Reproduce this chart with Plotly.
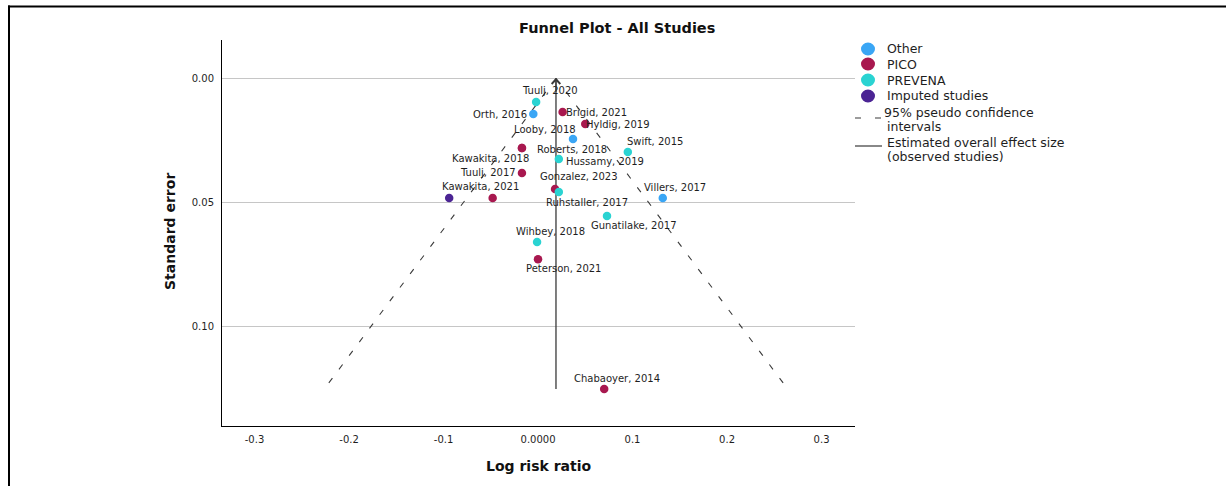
import numpy as np
import plotly.graph_objects as go

# ---- study data -------------------------------------------------------------
studies = ["Tuulj, 2020", "Orth, 2016", "Brigid, 2021", "Hyldig, 2019", "Looby, 2018",
           "Roberts, 2018", "Kawakita, 2018", "Swift, 2015", "Hussamy, 2019", "Tuulj, 2017",
           "Gonzalez, 2023", "Ruhstaller, 2017", "Kawakita, 2021", "Villers, 2017",
           "Gunatilake, 2017", "Wihbey, 2018", "Peterson, 2021", "Chabaoyer, 2014"]
log_rr = [-0.002, -0.005, 0.026, 0.050, 0.037,
          -0.017, -0.017, 0.095, 0.022, -0.017,
          0.018, 0.022, -0.048, 0.132,
          0.073, -0.001, 0.000, 0.070]
std_err = [0.0095, 0.0144, 0.0136, 0.0184, 0.0244,
           0.0281, 0.0281, 0.0297, 0.0325, 0.0381,
           0.0446, 0.0458, 0.0482, 0.0482,
           0.0554, 0.0659, 0.0728, 0.1251]
device = ["PREVENA", "Other", "PICO", "PICO", "Other",
          "PICO", "PICO", "PREVENA", "PREVENA", "PICO",
          "PICO", "PREVENA", "PICO", "Other",
          "PREVENA", "PREVENA", "PICO", "PICO"]

imputed_log_rr = [-0.094]
imputed_se = [0.0482]

pooled_log_rr = 0.019          # estimated overall effect (observed studies)
z_95 = 1.96

groups = ["Other", "PICO", "PREVENA"]
x_tick_vals = [-0.3, -0.2, -0.1, 0.0, 0.1, 0.2, 0.3]
x_tick_text = ["-0.3", "-0.2", "-0.1", "0.0000", "0.1", "0.2", "0.3"]
y_tick_vals = [0.0, 0.05, 0.10]
y_tick_text = ["0.00", "0.05", "0.10"]

# ---- styling ------------------------------------------------------------------
colors = {"Other": "#3AA6F5", "PICO": "#A8184F", "PREVENA": "#2AD3D2",
          "Imputed": "#4B2494"}
FONT = "DejaVu Sans"
TXT = "#1e1e1e"

W, H = 1226, 486
ML, MR, MT, MB = 222, 371, 40, 60
PW, PH = W - ML - MR, H - MT - MB


def px_x(px):
    return (px - ML) / PW


def px_y(py):
    return (H - MB - py) / PH


# label placement around each point (pixels: right, down)
label_offsets = {
    "Tuulj, 2020": (13.5, -11), "Orth, 2016": (-33, 0), "Brigid, 2021": (34, 0),
    "Hyldig, 2019": (33, 0), "Looby, 2018": (-27.5, -9), "Roberts, 2018": (50.5, 1),
    "Kawakita, 2018": (-31, 10), "Swift, 2015": (26.7, -11), "Hussamy, 2019": (45.7, 2),
    "Tuulj, 2017": (-34, 0), "Gonzalez, 2023": (23.5, -12.3), "Ruhstaller, 2017": (28, 10),
    "Kawakita, 2021": (-12.5, -11.3), "Villers, 2017": (12.7, -10.7),
    "Gunatilake, 2017": (27.3, 9.7), "Wihbey, 2018": (13, -11),
    "Peterson, 2021": (25.3, 9.7), "Chabaoyer, 2014": (12.7, -10.7),
}

fig = go.Figure()

# ---- pseudo 95% confidence funnel and pooled effect line -----------------------
se_max = max(std_err)
se_line = np.array([0.0, se_max])
for sign in (-1, 1):
    fig.add_trace(go.Scatter(
        x=pooled_log_rr + sign * z_95 * se_line, y=se_line, mode="lines",
        line=dict(color="#3a3a3a", width=1.1, dash="6px,11px"),
        hoverinfo="skip", showlegend=False))

fig.add_trace(go.Scatter(
    x=[pooled_log_rr, pooled_log_rr], y=[0.0, se_max], mode="lines",
    line=dict(color="#3a3a3a", width=1.3), hoverinfo="skip", showlegend=False))

# ---- study points -------------------------------------------------------------------
for g in groups:
    idx = [i for i, d in enumerate(device) if d == g]
    fig.add_trace(go.Scatter(
        x=[log_rr[i] for i in idx], y=[std_err[i] for i in idx],
        text=[studies[i] for i in idx], mode="markers", name=g,
        marker=dict(size=8.5, color=colors[g], line=dict(width=0)),
        showlegend=False))

fig.add_trace(go.Scatter(
    x=imputed_log_rr, y=imputed_se, mode="markers", name="Imputed studies",
    marker=dict(size=8.5, color=colors["Imputed"], line=dict(width=0)),
    showlegend=False))

annotations = []
for name, xv, yv in zip(studies, log_rr, std_err):
    dx, dy = label_offsets[name]
    annotations.append(dict(
        x=xv, y=yv, xref="x", yref="y", text=name, showarrow=False,
        xshift=dx, yshift=-dy, xanchor="center", yanchor="middle",
        font=dict(family=FONT, size=10, color=TXT)))

# arrow head on top of the pooled effect line
annotations.append(dict(
    x=pooled_log_rr, y=0.0, ax=pooled_log_rr, ay=0.006, xref="x", yref="y",
    axref="x", ayref="y", text="", showarrow=True, arrowhead=4, arrowsize=1.4,
    arrowwidth=1.2, arrowcolor="#3a3a3a"))

# titles
annotations.append(dict(
    x=px_x(617), y=px_y(28), xref="paper", yref="paper", showarrow=False,
    text="<b>Funnel Plot - All Studies</b>", xanchor="center", yanchor="middle",
    font=dict(family=FONT, size=14.5, color="#111")))
annotations.append(dict(
    x=px_x(538), y=px_y(466), xref="paper", yref="paper", showarrow=False,
    text="<b>Log risk ratio</b>", xanchor="center", yanchor="middle",
    font=dict(family=FONT, size=14, color="#111")))
annotations.append(dict(
    x=px_x(170), y=px_y(232), xref="paper", yref="paper", showarrow=False,
    text="<b>Standard error</b>", textangle=-90, xanchor="center", yanchor="middle",
    font=dict(family=FONT, size=14, color="#111")))

# ---- legend ----------------------------------------------------------------------------
shapes = []
legend_rows = [("Other", 49), ("PICO", 64), ("PREVENA", 80), ("Imputed studies", 96)]
legend_keys = ["Other", "PICO", "PREVENA", "Imputed"]
for (label, py), key in zip(legend_rows, legend_keys):
    shapes.append(dict(
        type="circle", xref="paper", yref="paper", xsizemode="pixel", ysizemode="pixel",
        xanchor=px_x(868), yanchor=px_y(py), x0=-7, x1=7, y0=-6.5, y1=6.5,
        fillcolor=colors[key], line=dict(width=0)))
    annotations.append(dict(
        x=px_x(885), y=px_y(py), xref="paper", yref="paper", showarrow=False,
        text=label, xanchor="left", yanchor="middle",
        font=dict(family=FONT, size=12.5, color=TXT)))

shapes.append(dict(type="line", xref="paper", yref="paper",
                   x0=px_x(855), x1=px_x(882), y0=px_y(118), y1=px_y(118),
                   line=dict(color="#3a3a3a", width=1.2, dash="6px,14px")))
shapes.append(dict(type="line", xref="paper", yref="paper",
                   x0=px_x(855), x1=px_x(882), y0=px_y(146), y1=px_y(146),
                   line=dict(color="#3a3a3a", width=1.2)))
for text, px, py in [("95% pseudo confidence", 882, 112), ("intervals", 885, 126),
                     ("Estimated overall effect size", 885, 142),
                     ("(observed studies)", 885, 156)]:
    annotations.append(dict(
        x=px_x(px), y=px_y(py), xref="paper", yref="paper", showarrow=False,
        text=text, xanchor="left", yanchor="middle",
        font=dict(family=FONT, size=12.5, color=TXT)))

# outer frame (top and left edges)
shapes.append(dict(type="line", xref="paper", yref="paper",
                   x0=px_x(8), x1=px_x(W + 2), y0=px_y(6.5), y1=px_y(6.5),
                   line=dict(color="black", width=2)))
shapes.append(dict(type="line", xref="paper", yref="paper",
                   x0=px_x(9), x1=px_x(9), y0=px_y(5.5), y1=px_y(H + 2),
                   line=dict(color="black", width=2)))

fig.update_layout(
    width=W, height=H, autosize=False,
    margin=dict(l=ML, r=MR, t=MT, b=MB, pad=0),
    paper_bgcolor="white", plot_bgcolor="white",
    showlegend=False,
    annotations=annotations, shapes=shapes,
    xaxis=dict(range=[-0.3344, 0.3354], tickvals=x_tick_vals, ticktext=x_tick_text,
               showgrid=False, zeroline=False, showline=True, linecolor="black",
               linewidth=1, ticks="", ticklabelstandoff=4,
               tickfont=dict(family=FONT, size=10, color=TXT)),
    yaxis=dict(range=[0.13997, -0.01542], tickvals=y_tick_vals, ticktext=y_tick_text,
               showgrid=True, gridcolor="#c6c6c6", gridwidth=1, zeroline=False,
               showline=True, linecolor="black", linewidth=1, ticks="",
               ticklabelstandoff=5,
               tickfont=dict(family=FONT, size=10, color=TXT)),
)

fig.write_html("out.html")
